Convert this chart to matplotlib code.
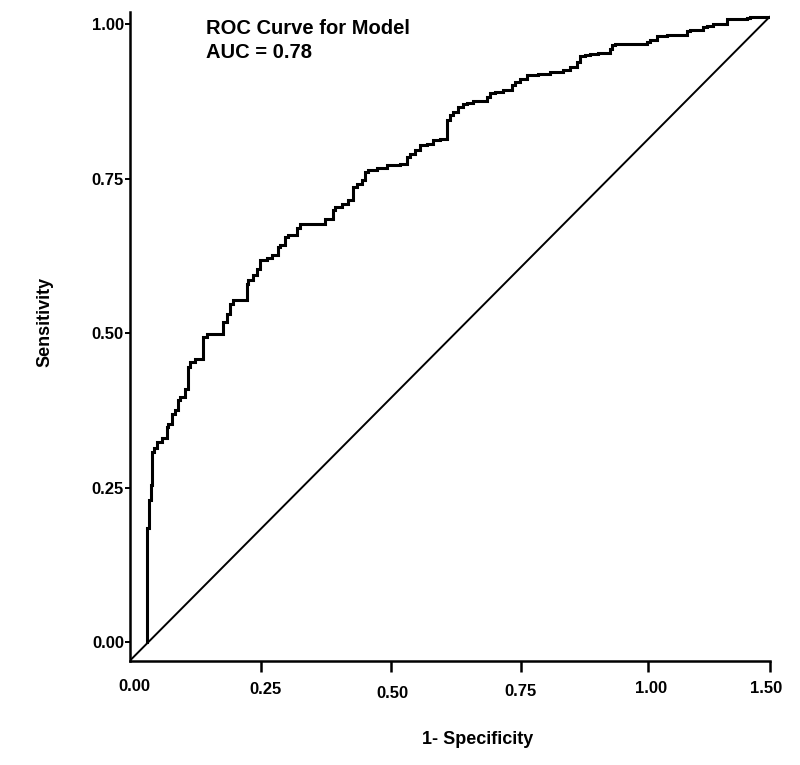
"""ROC curve for the model, redrawn from the reference image."""

import numpy as np
import matplotlib.pyplot as plt
from matplotlib.transforms import ScaledTranslation


# --- ROC curve (1 - specificity, sensitivity) ---
fpr = [0.0269, 0.0269, 0.0305, 0.0331, 0.0356, 0.0383, 0.0425, 0.0503, 0.0581,
       0.0606, 0.0659, 0.0711, 0.0763, 0.0789, 0.0867, 0.0919, 0.0945, 0.1023,
       0.1148, 0.1206, 0.1309, 0.1466, 0.1519, 0.1570, 0.1622, 0.1700, 0.1831,
       0.1856, 0.1934, 0.1988, 0.2039, 0.2144, 0.2222, 0.2325, 0.2352, 0.2430,
       0.2481, 0.2613, 0.2664, 0.2820, 0.3055, 0.3184, 0.3211, 0.3316, 0.3419,
       0.3497, 0.3550, 0.3628, 0.3680, 0.3731, 0.3863, 0.4019, 0.4227, 0.4331,
       0.4383, 0.4461, 0.4539, 0.4644, 0.4747, 0.4852, 0.4956, 0.5003, 0.5059,
       0.5138, 0.5216, 0.5269, 0.5372, 0.5581, 0.5633, 0.5711, 0.5841, 0.5972,
       0.6023, 0.6102, 0.6206, 0.6388, 0.6570, 0.6778, 0.6883, 0.6988, 0.7039,
       0.7117, 0.7195, 0.7325, 0.7508, 0.7534, 0.7586, 0.7716, 0.8081, 0.8133,
       0.8238, 0.8394, 0.8706, 0.8758, 0.8966, 0.9019, 0.9122, 0.9331, 0.9434,
       0.9644, 0.9695, 1.0000]
tpr = [0.0000, 0.1708, 0.1849, 0.2301, 0.2544, 0.3083, 0.3142, 0.3244, 0.3304,
       0.3487, 0.3542, 0.3704, 0.3757, 0.3919, 0.3972, 0.4108, 0.4457, 0.4538,
       0.4582, 0.4943, 0.4986, 0.4998, 0.5185, 0.5321, 0.5483, 0.5536, 0.5544,
       0.5806, 0.5860, 0.5940, 0.6049, 0.6183, 0.6227, 0.6264, 0.6398, 0.6426,
       0.6560, 0.6587, 0.6701, 0.6777, 0.6777, 0.6858, 0.6992, 0.7045, 0.7100,
       0.7153, 0.7369, 0.7424, 0.7477, 0.7611, 0.7639, 0.7682, 0.7720, 0.7747,
       0.7854, 0.7909, 0.7962, 0.8043, 0.8070, 0.8124, 0.8151, 0.8447, 0.8528,
       0.8582, 0.8663, 0.8706, 0.8727, 0.8760, 0.8824, 0.8889, 0.8905, 0.8933,
       0.9013, 0.9067, 0.9122, 0.9175, 0.9203, 0.9229, 0.9267, 0.9309, 0.9390,
       0.9482, 0.9510, 0.9526, 0.9542, 0.9607, 0.9660, 0.9677, 0.9685, 0.9714,
       0.9741, 0.9806, 0.9833, 0.9892, 0.9914, 0.9956, 0.9968, 1.0000, 1.0081,
       1.0081, 1.0108, 1.0118]

# reference (chance) line, corner to corner
diag_x = [0.0, 1.0]
diag_y = [-0.030, 1.012]

auc = 0.78

x_ticks = [0.0, 0.205, 0.408, 0.611, 0.810, 1.0]
x_labels = ["0.00", "0.25", "0.50", "0.75", "1.00", "1.50"]
y_ticks = [0.0, 0.25, 0.50, 0.75, 1.00]
y_labels = ["0.00", "0.25", "0.50", "0.75", "1.00"]


plt.rcParams['font.family'] = ['Liberation Sans', 'DejaVu Sans']
plt.rcParams['font.weight'] = 'bold'

fig = plt.figure(figsize=(8, 7.65), dpi=100)
ax = fig.add_axes([0.1619, 0.1359, 0.8, 0.8484])

ax.step(fpr, tpr, where='pre', color='black', lw=2.2, solid_joinstyle='miter')
ax.plot(diag_x, diag_y, color='black', lw=1.4)

ax.set_xlim(0, 1)
ax.set_ylim(-0.030, 1.020)

ax.spines[["top", "right"]].set_visible(False)
ax.spines[["left", "bottom"]].set_linewidth(1.8)

ax.set_xticks(x_ticks)
ax.set_xticklabels(x_labels)
ax.set_yticks(y_ticks)
ax.set_yticklabels(y_labels)

ax.tick_params(axis='x', direction='out', length=8, width=1.8, pad=5,
               labelsize=12)
ax.tick_params(axis='y', direction='out', length=3.5, width=1.4, pad=0.5,
               labelsize=12)
ax.xaxis.get_major_ticks()[0].tick1line.set_visible(False)

# the x labels sit a little unevenly in the original
dx = [4.5, 5, 2, 0, 3, -3.5]
dy = [0, -3, -7, -5, -2, -2]
for lab, ox, oy in zip(ax.get_xticklabels(), dx, dy):
    lab.set_transform(lab.get_transform()
                      + ScaledTranslation(ox / 100, oy / 100, fig.dpi_scale_trans))

fig.text(206 / 800, 1 - 28 / 765, "ROC Curve for Model", fontsize=14.5,
         va='center', ha='left')
fig.text(206 / 800, 1 - 52 / 765, f"AUC = {auc:.2f}", fontsize=14.5,
         va='center', ha='left')

fig.text(478 / 800, 1 - 740 / 765, "1- Specificity", fontsize=13,
         ha='center', va='center')
fig.text(45 / 800, 1 - 322 / 765, "Sensitivity", fontsize=13, rotation=90,
         ha='center', va='center')

fig.savefig("out.png", dpi=100)
